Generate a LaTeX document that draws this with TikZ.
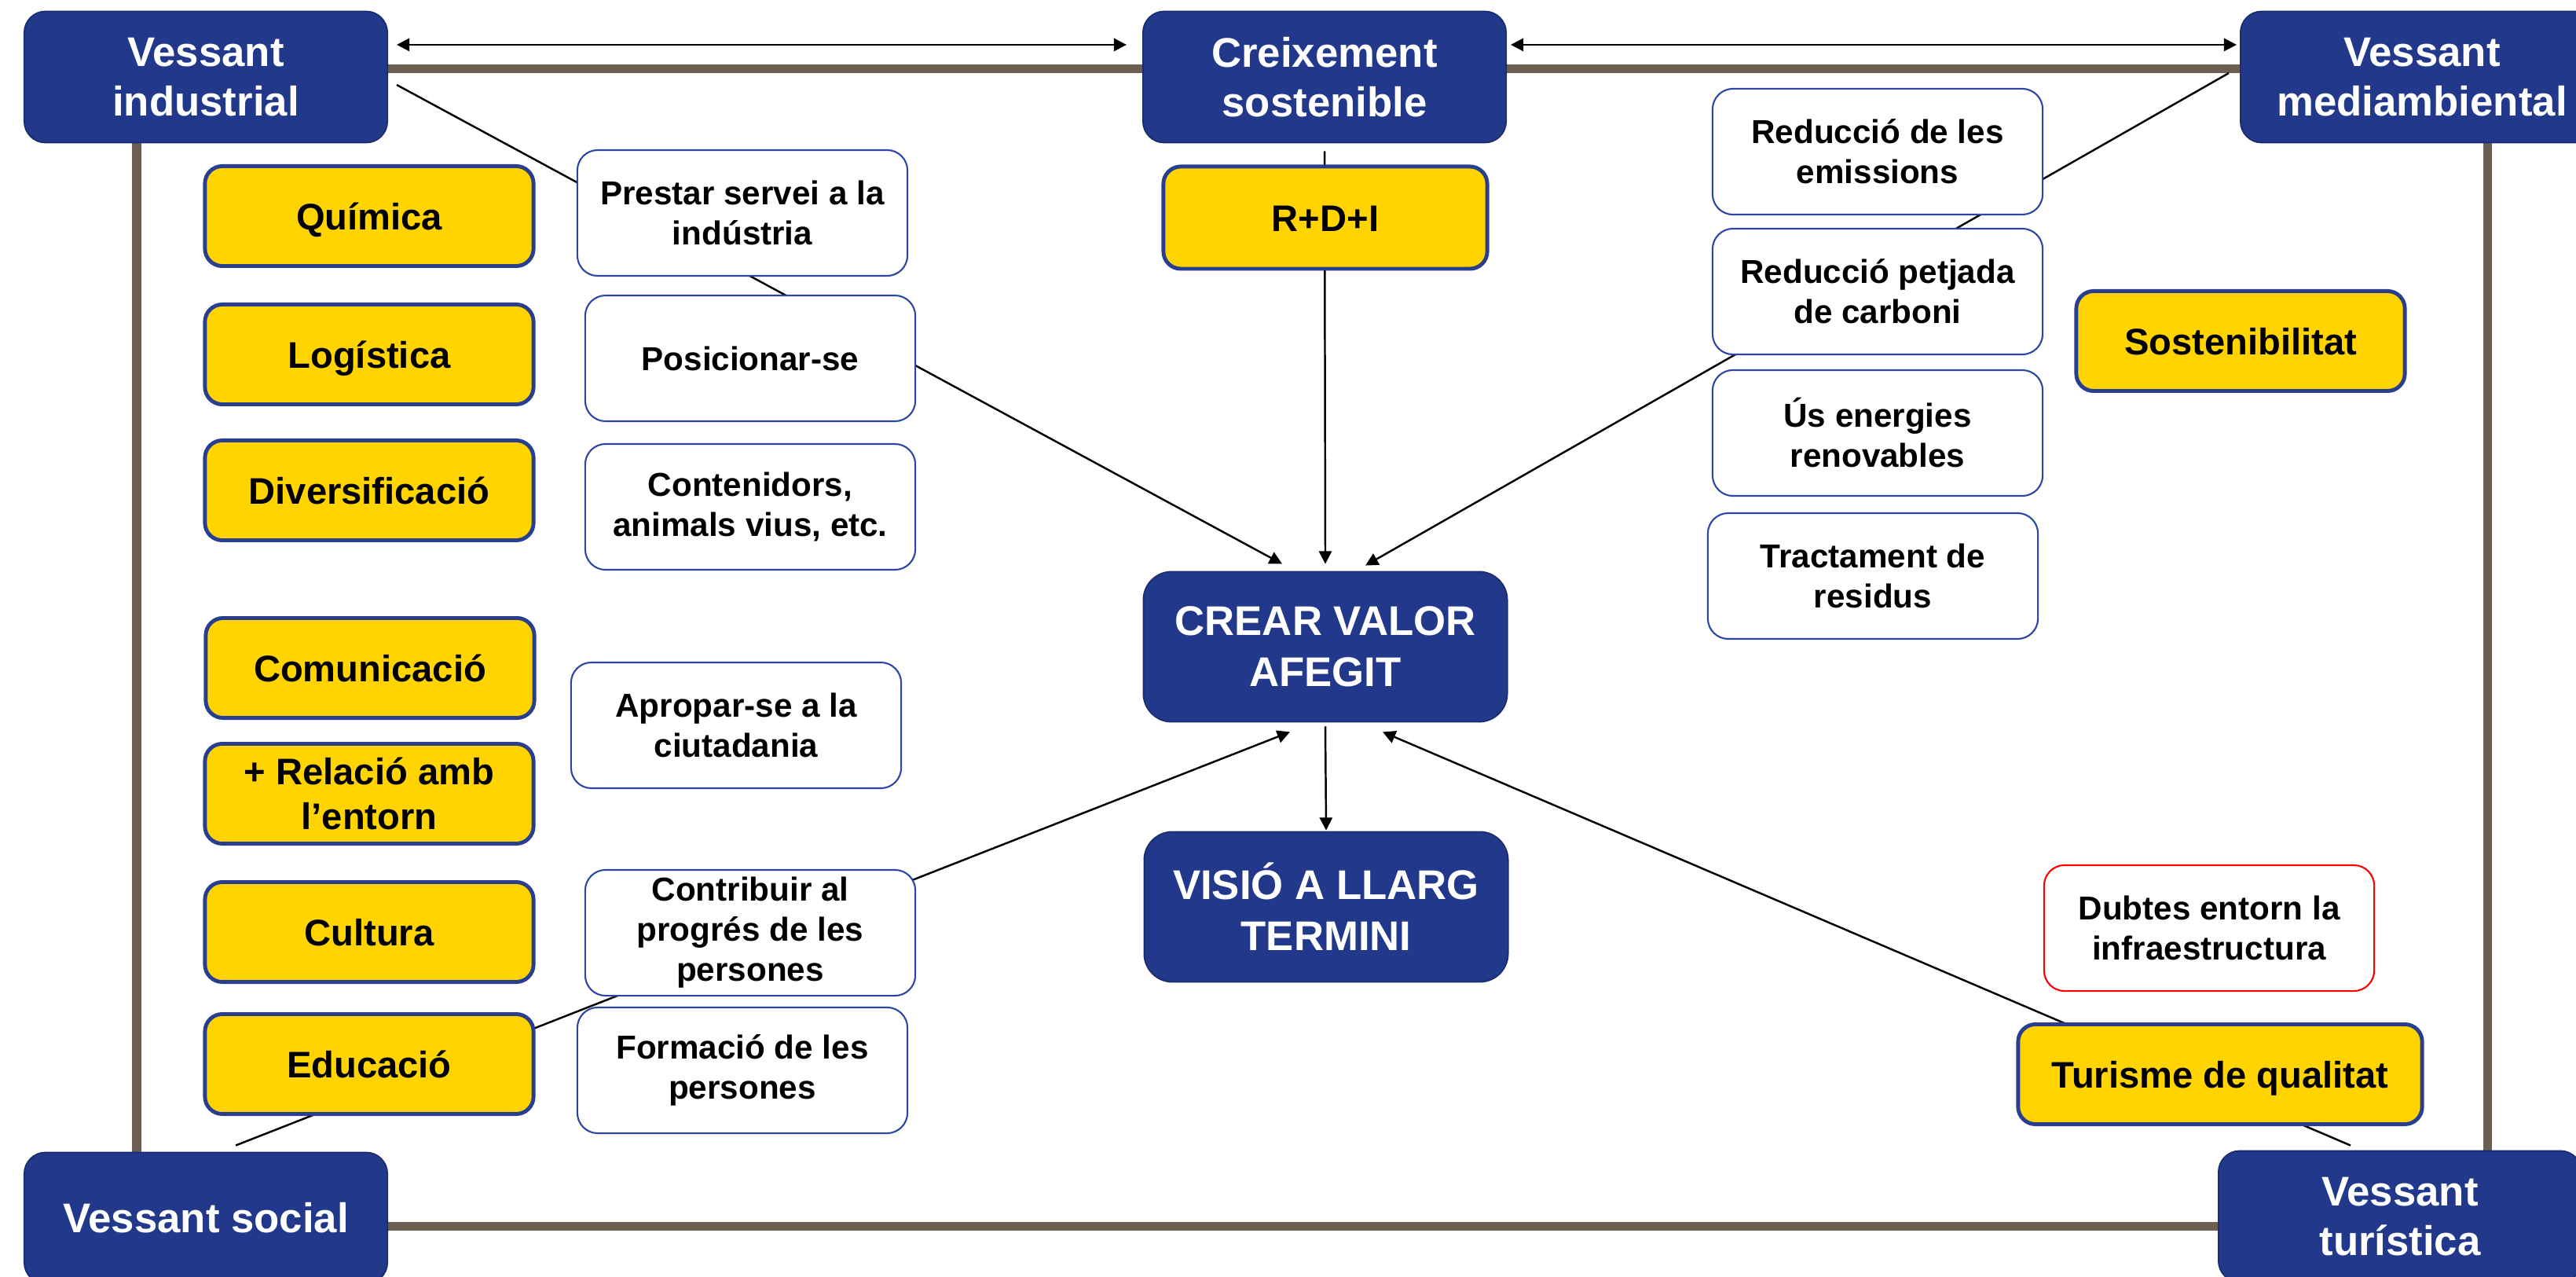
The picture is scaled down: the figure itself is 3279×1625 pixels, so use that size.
\documentclass[tikz,border=0pt]{standalone}
\usepackage{fontspec}
\setmainfont{Liberation Sans}
\usetikzlibrary{arrows.meta}
\pgfdeclarelayer{bg}
\pgfsetlayers{bg,main}
\definecolor{navy}{HTML}{22388A}
\definecolor{navyline}{HTML}{1A2C6E}
\definecolor{gold}{HTML}{FFD400}
\definecolor{goldline}{HTML}{2A3E90}
\definecolor{boxline}{HTML}{2C47A3}
\definecolor{framebrown}{HTML}{6C5E50}
\begin{document}
\begin{tikzpicture}[x=0.01cm,y=-0.01cm,
  bluebox/.style={draw=navyline, line width=0.5pt, fill=navy, rounded corners=0.27cm, text=white, font=\fontsize{15}{18}\selectfont\bfseries, align=center, minimum width=4.62cm, minimum height=1.67cm, inner sep=0pt},
  bigbox/.style={bluebox, rounded corners=0.36cm, minimum width=4.63cm, minimum height=1.91cm, font=\fontsize{15}{18.5}\selectfont\bfseries},
  yellowbox/.style={draw=goldline, line width=1.4pt, fill=gold, rounded corners=0.22cm, text=black, font=\fontsize{13.4}{16}\selectfont\bfseries, align=center, minimum width=4.18cm, minimum height=1.27cm, inner sep=0pt},
  yellowone/.style={yellowbox, text height=1.0em, text depth=0pt},
  whitebox/.style={draw=boxline, line width=0.6pt, fill=white, rounded corners=0.26cm, text=black, font=\fontsize{12}{14.5}\selectfont\bfseries, align=center, minimum width=4.20cm, minimum height=1.60cm, inner sep=0pt},
  conn/.style={draw=black, line width=0.7pt},
  arr/.style={conn, -{Triangle[length=4.6pt,width=4.6pt]}},
  darr/.style={conn, line width=0.8pt, {Triangle[length=4.6pt,width=4.6pt]}-{Triangle[length=4.6pt,width=4.6pt]}}
]
\path[use as bounding box, clip] (0,0) rectangle (3279,1625);

% corner and top boxes
\node[bluebox] (vind) at (262,98) {Vessant\\industrial};
\node[bluebox] (creix) at (1686,98) {Creixement\\sostenible};
\node[bluebox] (vmed) at (3083,98) {Vessant\\mediambiental};
\node[bluebox] (vsoc) at (262,1550) {Vessant social};
\node[bluebox] (vtur) at (3055,1548) {Vessant\\turística};

% center
\node[yellowone, minimum width=4.12cm, minimum height=1.30cm] (rdi) at (1687,277) {R+D+I};
\node[bigbox] (crear) at (1687,823) {CREAR VALOR\\AFEGIT};
\node[bigbox] (visio) at (1688,1154) {VISIÓ A LLARG\\TERMINI};

% left yellow boxes
\node[yellowone] (quim) at (470,275) {Química};
\node[yellowone] (logi) at (470,451) {Logística};
\node[yellowone] (divers) at (470,624) {Diversificació};
\node[yellowone] (comu) at (471,850) {Comunicació};
\node[yellowbox] (rel) at (470,1010) {+ Relació amb\\l’entorn};
\node[yellowone] (cult) at (470,1186) {Cultura};
\node[yellowone] (edu) at (470,1354) {Educació};

% left white boxes
\node[whitebox] (prestar) at (945,271) {Prestar servei a la\\indústria};
\node[whitebox] (posic) at (955,456) {Posicionar-se};
\node[whitebox] (cont) at (955,645) {Contenidors,\\animals vius, etc.};
\node[whitebox] (apropar) at (937,923) {Apropar-se a la\\ciutadania};
\node[whitebox] (contrib) at (955,1187) {Contribuir al\\progrés de les\\persones};
\node[whitebox] (formacio) at (945,1362) {Formació de les\\persones};

% right boxes
\node[whitebox] (redem) at (2390,193) {Reducció de les\\emissions};
\node[whitebox] (redpet) at (2390,371) {Reducció petjada\\de carboni};
\node[whitebox] (us) at (2390,551) {Ús energies\\renovables};
\node[whitebox] (tract) at (2384,733) {Tractament de\\residus};
\node[yellowone] (sost) at (2852,434) {Sostenibilitat};
\node[whitebox, draw=red] (dubtes) at (2812,1181) {Dubtes entorn la\\infraestructura};
\node[yellowone, minimum width=5.14cm] (turisme) at (2826,1367) {Turisme de qualitat};

% top double arrows
\draw[darr] ([xshift=0.11cm,yshift=0.41cm]vind.east) -- ([xshift=-0.2cm,yshift=0.41cm]creix.west);
\draw[darr] ([xshift=0.05cm,yshift=0.41cm]creix.east) -- ([xshift=-0.04cm,yshift=0.41cm]vmed.west);

\begin{pgfonlayer}{bg}
\fill[white] (0,0) rectangle (3279,1625);
\draw[framebrown, line width=3.13pt] (174,87.5) rectangle (3166,1560);
\draw[arr] ([xshift=0.11cm,yshift=-0.1cm]vind.east) -- ([xshift=-0.55cm,yshift=0.09cm]crear.north);
\draw[arr] ([yshift=-0.1cm]creix.south) -- ([yshift=0.09cm]crear.north);
\draw[arr] ([xshift=-0.14cm,yshift=0.05cm]vmed.west) -- ([xshift=0.51cm,yshift=0.07cm]crear.north);
\draw[arr] ([xshift=0.38cm,yshift=0.08cm]vsoc.north) -- ([xshift=-0.45cm,yshift=-0.12cm]crear.south);
\draw[arr] ([xshift=-0.63cm,yshift=0.06cm]vtur.north) -- ([xshift=0.73cm,yshift=-0.12cm]crear.south);
\draw[arr] ([yshift=-0.05cm]crear.south) -- ([yshift=0.01cm]visio.north);
\end{pgfonlayer}
\end{tikzpicture}
\end{document}
